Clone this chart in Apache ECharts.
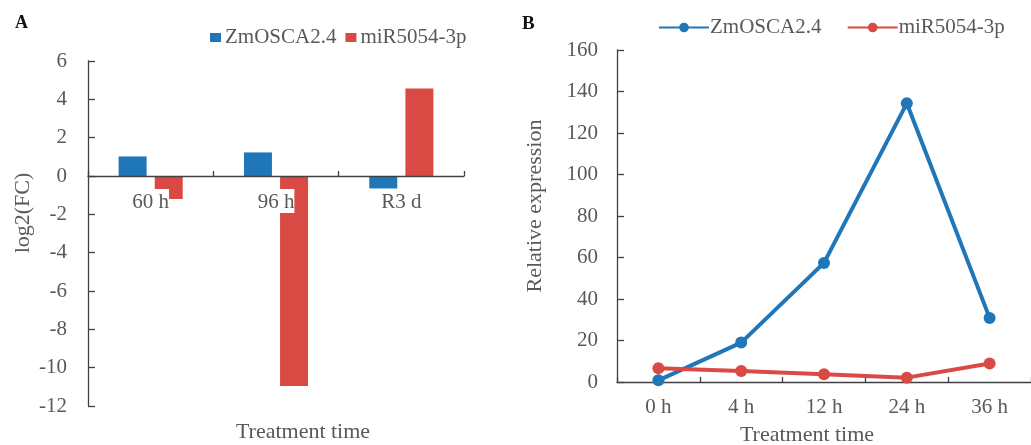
<!DOCTYPE html>
<html><head><meta charset="utf-8">
<script src="https://cdn.jsdelivr.net/npm/echarts@6/dist/echarts.min.js"></script>
<style>html,body{margin:0;padding:0;background:#fff}#c{width:1031px;height:445px}</style>
</head><body><div id="c"></div>
<script>
// Panel A: log2 fold change
const catsA = ['60 h', '96 h', 'R3 d'];
const oscaA = [1.02, 1.23, -0.65];
const mirA = [-1.2, -10.95, 4.57];
// Panel B: relative expression
const catsB = ['0 h', '4 h', '12 h', '24 h', '36 h'];
const oscaB = [0.8, 19.0, 57.4, 134.3, 30.9];
const mirB = [6.6, 5.3, 3.7, 2.1, 8.9];
const seriesNames = ['ZmOSCA2.4', 'miR5054-3p'];

const BLUE = '#1F77BA', RED = '#D94A45', TXT = '#595959', AX = '#404040';
const FONT = "'Liberation Serif', 'Times New Roman', serif";

const chart = echarts.init(document.getElementById('c'), null, {renderer: 'canvas'});
const axisCommon = {
  axisLine: {show: true, lineStyle: {color: AX, width: 1.3}},
  splitLine: {show: false}
};
chart.setOption({
  animation: false,
  backgroundColor: '#fff',
  textStyle: {fontFamily: FONT},
  grid: [
    {left: 88, right: 567, top: 61, bottom: 39},
    {left: 617, right: 0, top: 50, bottom: 63}
  ],
  legend: [
    {data: seriesNames.slice(), left: 205, top: 22, icon: 'rect', itemWidth: 11, itemHeight: 9, itemGap: 9,
     textStyle: {fontFamily: FONT, fontSize: 21, color: TXT, padding: [0, 0, 0, -1]},
     selectedMode: false},
    {data: [{name: seriesNames[0] + ' '}, {name: seriesNames[1] + ' '}], left: 653, top: 12, itemWidth: 50, itemHeight: 12, itemGap: 20,
     textStyle: {fontFamily: FONT, fontSize: 21, color: TXT, padding: [0, 0, 0, -4]},
     selectedMode: false}
  ],
  xAxis: [
    Object.assign({}, axisCommon, {
      type: 'category', gridIndex: 0, data: catsA, z: 10, position: 'bottom', offset: -230,
      axisLine: {show: true, onZero: false, lineStyle: {color: AX, width: 1.3}},
      axisTick: {show: true, inside: true, length: 5, lineStyle: {color: AX, width: 1.3}},
      axisLabel: {margin: 13, fontFamily: FONT, fontSize: 21, color: TXT, backgroundColor: '#fff', padding: [3, 0, 0, 0]}
    }),
    Object.assign({}, axisCommon, {
      type: 'category', gridIndex: 1, data: catsB,
      axisTick: {show: true, inside: true, length: 5, lineStyle: {color: AX, width: 1.3}},
      axisLabel: {margin: 15, fontFamily: FONT, fontSize: 21, color: TXT}
    })
  ],
  yAxis: [
    Object.assign({}, axisCommon, {
      type: 'value', gridIndex: 0, min: -12, max: 6, interval: 2,
      axisTick: {show: true, inside: true, length: 7, lineStyle: {color: AX, width: 1.3}},
      axisLabel: {margin: 21, fontFamily: FONT, fontSize: 21, color: TXT}
    }),
    Object.assign({}, axisCommon, {
      type: 'value', gridIndex: 1, min: 0, max: 160, interval: 20,
      axisTick: {show: true, inside: true, length: 7, lineStyle: {color: AX, width: 1.3}},
      axisLabel: {margin: 19, fontFamily: FONT, fontSize: 21, color: TXT}
    })
  ],
  series: [
    {name: seriesNames[0], type: 'bar', xAxisIndex: 0, yAxisIndex: 0, data: oscaA, barWidth: 28, barGap: '29%', itemStyle: {color: BLUE}},
    {name: seriesNames[1], type: 'bar', xAxisIndex: 0, yAxisIndex: 0, data: mirA, barWidth: 28, barGap: '29%', itemStyle: {color: RED}},
    {name: seriesNames[0] + ' ', type: 'line', xAxisIndex: 1, yAxisIndex: 1, data: oscaB, symbol: 'circle', symbolSize: 12,
     lineStyle: {color: BLUE, width: 4}, itemStyle: {color: BLUE}},
    {name: seriesNames[1] + ' ', type: 'line', xAxisIndex: 1, yAxisIndex: 1, data: mirB, symbol: 'circle', symbolSize: 12,
     lineStyle: {color: RED, width: 4}, itemStyle: {color: RED}}
  ],
  graphic: [
    {type: 'text', left: 15, top: 14, style: {text: 'A', font: 'bold 18px ' + FONT, fill: '#111'}},
    {type: 'text', left: 522, top: 15, style: {text: 'B', font: 'bold 19px ' + FONT, fill: '#111'}},
    {type: 'text', x: 23, y: 213, rotation: Math.PI / 2,
     style: {text: 'log2(FC)', font: '22px ' + FONT, fill: TXT, align: 'center', verticalAlign: 'middle'}},
    {type: 'text', x: 303, y: 432,
     style: {text: 'Treatment time', font: '22px ' + FONT, fill: TXT, align: 'center', verticalAlign: 'middle'}},
    {type: 'text', x: 535, y: 206, rotation: Math.PI / 2,
     style: {text: 'Relative expression', font: '22px ' + FONT, fill: TXT, align: 'center', verticalAlign: 'middle'}},
    {type: 'text', x: 807, y: 435,
     style: {text: 'Treatment time', font: '22px ' + FONT, fill: TXT, align: 'center', verticalAlign: 'middle'}}
  ]
});
</script></body></html>
